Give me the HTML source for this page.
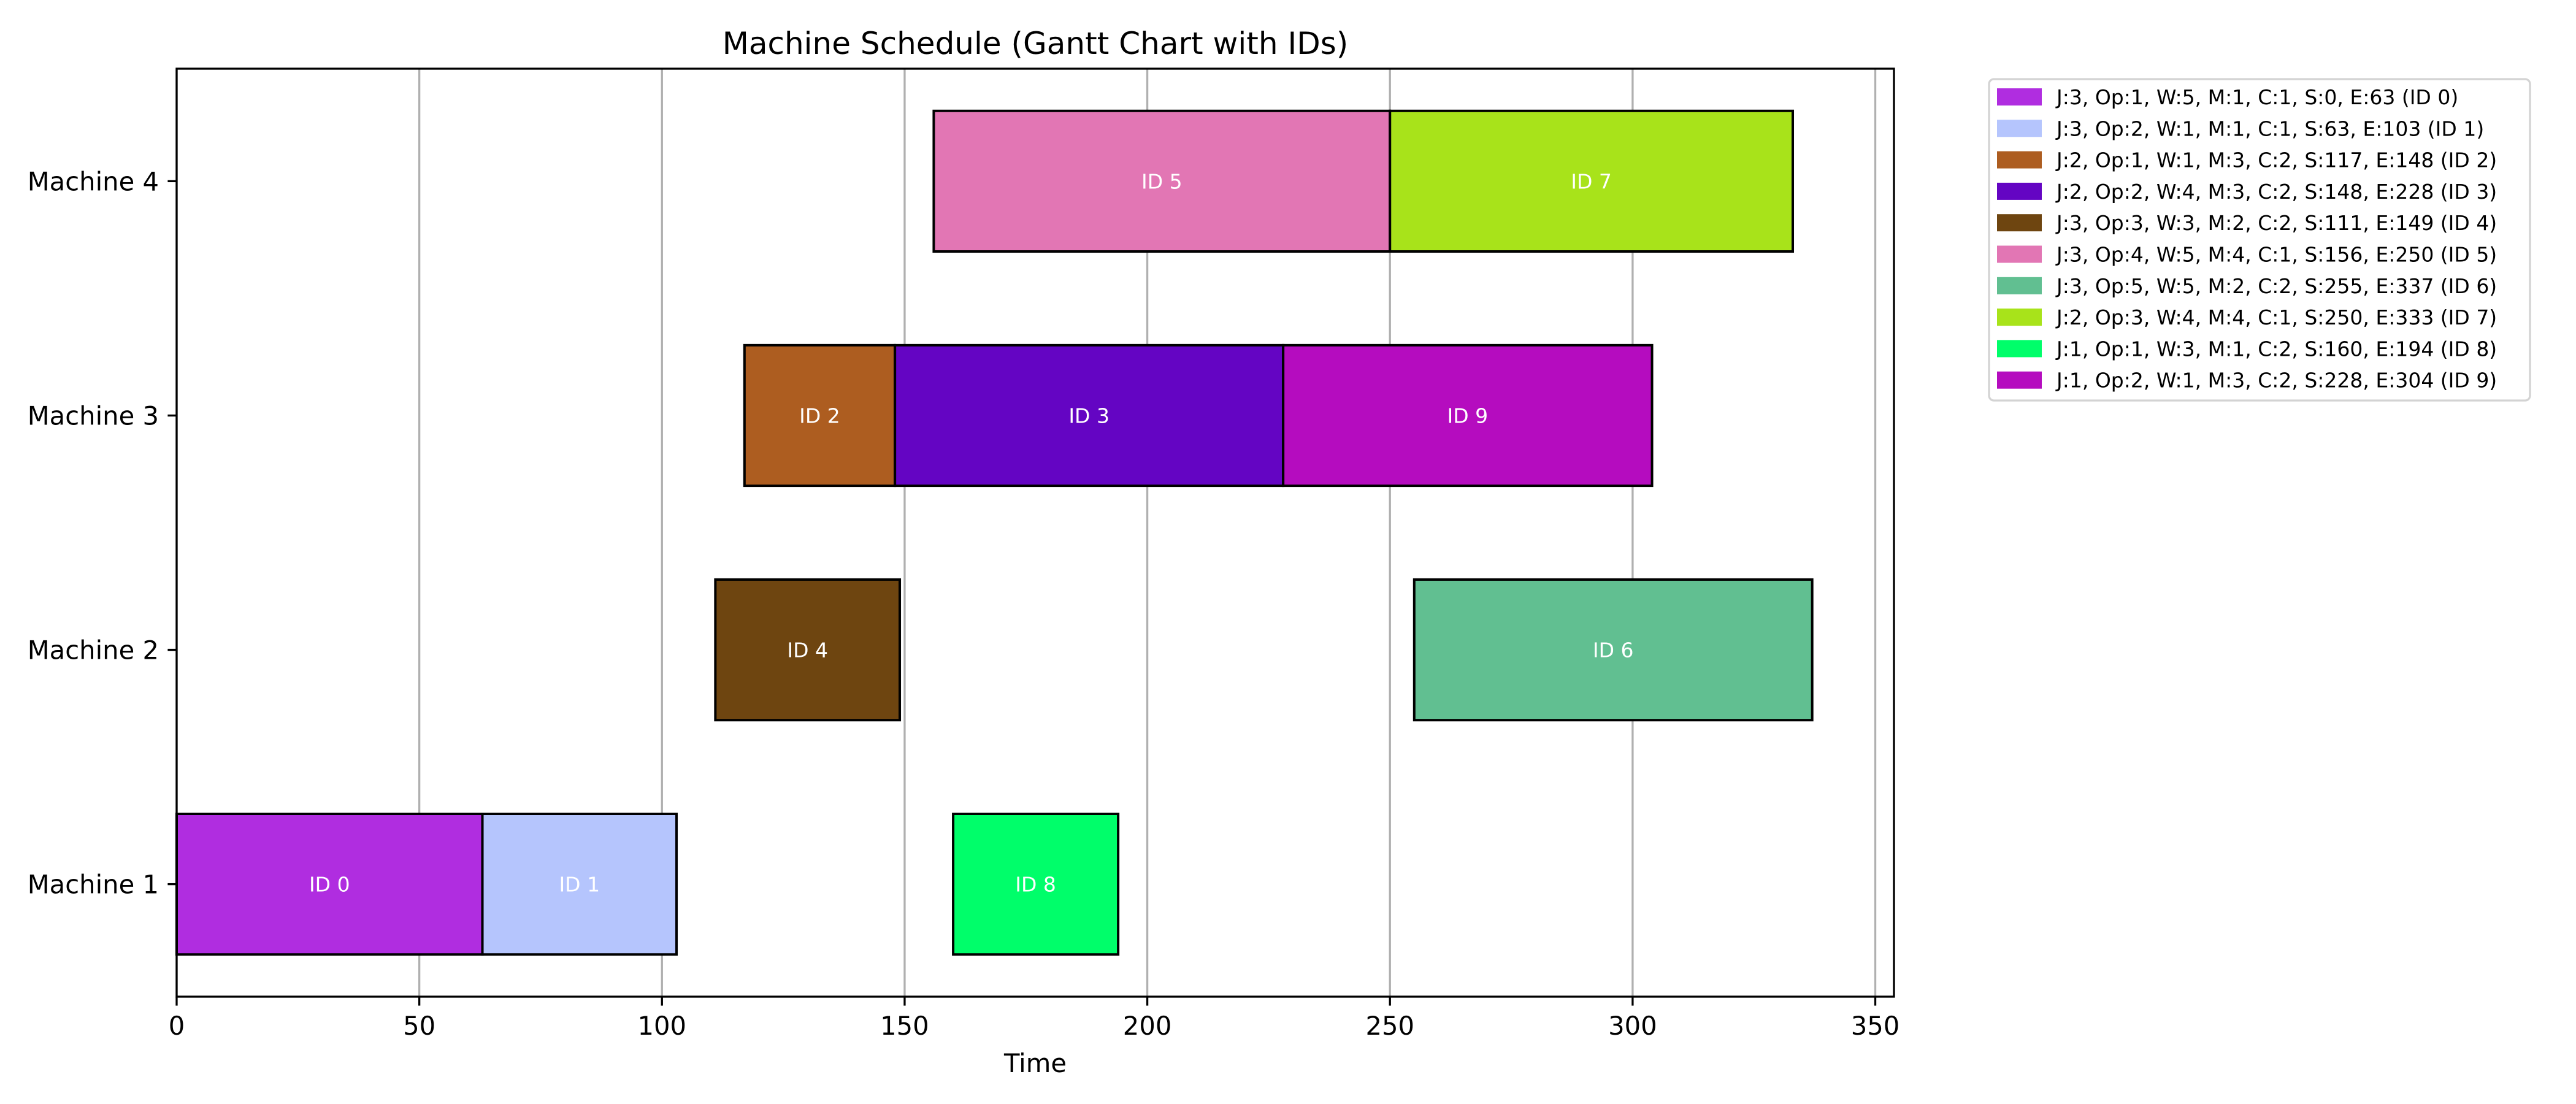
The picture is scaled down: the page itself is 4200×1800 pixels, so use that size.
<!DOCTYPE html>
<html><head><meta charset="utf-8"><style>
html,body{margin:0;padding:0;background:#fff;}
svg{display:block;font-family:"DejaVu Sans","Liberation Sans",sans-serif;}
</style></head><body>
<svg id="chart" width="4200" height="1800" viewBox="0 0 4200 1800" xmlns="http://www.w3.org/2000/svg">
<rect width="4200" height="1800" fill="#fff"/>
<g id="grid"></g>
<g id="bars"></g>
<rect x="288" y="112" width="2800" height="1513" fill="none" stroke="#000" stroke-width="3.3"/>
<g id="axes"></g>
<text x="1688" y="88" font-size="50" text-anchor="middle">Machine Schedule (Gantt Chart with IDs)</text>
<text x="1688" y="1748" font-size="41.7" text-anchor="middle">Time</text>
<rect x="3243" y="129" width="882" height="524" rx="8" fill="#fff" stroke="#d3d3d3" stroke-width="3.3"/>
<g id="legend"></g>
</svg>
<script>
const ids = [0,1,2,3,4,5,6,7,8,9];
const machines = [1,1,3,3,2,4,2,4,1,3];
const starts = [0,63,117,148,111,156,255,250,160,228];
const ends = [63,103,148,228,149,250,337,333,194,304];
const colors = ["#b02de0","#b5c5fd","#ad5d20","#6405c3","#6e4510","#e276b4","#61bf91","#a8e31a","#00fe6a","#b50cbf"];
const legendLabels = [
"J:3, Op:1, W:5, M:1, C:1, S:0, E:63 (ID 0)",
"J:3, Op:2, W:1, M:1, C:1, S:63, E:103 (ID 1)",
"J:2, Op:1, W:1, M:3, C:2, S:117, E:148 (ID 2)",
"J:2, Op:2, W:4, M:3, C:2, S:148, E:228 (ID 3)",
"J:3, Op:3, W:3, M:2, C:2, S:111, E:149 (ID 4)",
"J:3, Op:4, W:5, M:4, C:1, S:156, E:250 (ID 5)",
"J:3, Op:5, W:5, M:2, C:2, S:255, E:337 (ID 6)",
"J:2, Op:3, W:4, M:4, C:1, S:250, E:333 (ID 7)",
"J:1, Op:1, W:3, M:1, C:2, S:160, E:194 (ID 8)",
"J:1, Op:2, W:1, M:3, C:2, S:228, E:304 (ID 9)"];
const xTicks = [0,50,100,150,200,250,300,350];
const yTicks = [1,2,3,4];
const yTickLabels = ["Machine 1","Machine 2","Machine 3","Machine 4"];

const NS="http://www.w3.org/2000/svg";
const X0=288,X1=3088,XMIN=0,XMAX=353.85;
const Y0=1625,Y1=112,YMIN=0.52,YMAX=4.48;
const xs=v=>X0+(v-XMIN)/(XMAX-XMIN)*(X1-X0);
const ys=v=>Y0-(v-YMIN)/(YMAX-YMIN)*(Y0-Y1);
function mk(tag,attrs,parent){const e=document.createElementNS(NS,tag);for(const k in attrs)e.setAttribute(k,attrs[k]);parent.appendChild(e);return e;}
const grid=document.getElementById('grid'),axes=document.getElementById('axes'),bars=document.getElementById('bars'),leg=document.getElementById('legend');
xTicks.forEach(t=>{
  const x=xs(t);
  const g=mk('line',{x1:x,x2:x,y1:Y1,y2:Y0,stroke:'#b0b0b0','stroke-width':3.3},grid);
  
  
  const tk=mk('line',{x1:x,x2:x,y1:Y0,y2:Y0+14.6,stroke:'#000','stroke-width':3.3},axes);
  
  
  const tl=mk('text',{x:x,y:1687,'font-size':41.7,'text-anchor':'middle'},axes);
  tl.textContent=t;
  
  
});
yTicks.forEach((t,i)=>{
  const y=ys(t);
  const tk=mk('line',{x1:X0-14.6,x2:X0,y1:y,y2:y,stroke:'#000','stroke-width':3.3},axes);
  
  
  const tl=mk('text',{x:X0-29,y:y+15,'font-size':41.7,'text-anchor':'end'},axes);
  tl.textContent=yTickLabels[i];
  
  
});
ids.forEach((id,i)=>{
  const x=xs(starts[i]),w=xs(ends[i])-x,yt=ys(machines[i]+0.3),h=ys(machines[i]-0.3)-yt;
  const r=mk('rect',{x:x,y:yt,width:w,height:h,fill:colors[i],stroke:'#000','stroke-width':4},bars);
  
  
  const t=mk('text',{x:x+w/2,y:ys(machines[i])+12,'font-size':33,'text-anchor':'middle',fill:'#fff'},bars);
  t.textContent='ID '+id;
  
  
});
legendLabels.forEach((lab,i)=>{
  const yc=158+i*51.3;
  const p=mk('rect',{x:3256,y:yc-14,width:73,height:28,fill:colors[i]},leg);
  
  
  const t=mk('text',{x:3353,y:yc+12,'font-size':33},leg);
  t.textContent=lab;
  
  
});
</script>
</body></html>
